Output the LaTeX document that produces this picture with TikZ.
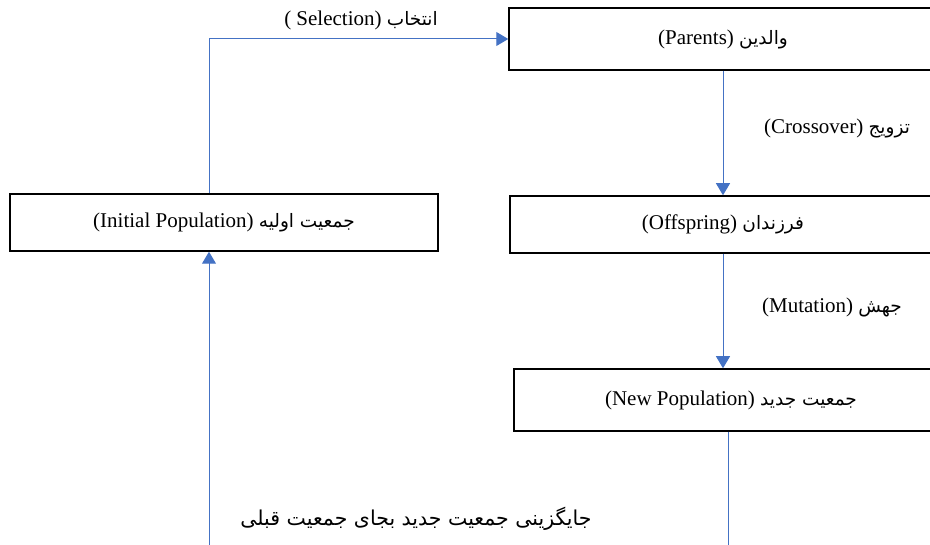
\documentclass[tikz,border=0pt]{standalone}
\usepackage{fontspec}
\setmainfont{Liberation Serif}
\newfontfamily\arabicfont[Script=Arabic]{DejaVu Sans}
\TeXXeTstate=1
\usetikzlibrary{arrows.meta}
\definecolor{flowblue}{HTML}{4472C4}
\newcommand{\fa}[1]{{\arabicfont\fontsize{18.5}{22}\selectfont\beginR #1\endR}}
\begin{document}
\begin{tikzpicture}[x=1pt,y=-1pt,
  stagebox/.style={draw=black,line width=1.5pt,fill=white,inner sep=0pt,
    font=\fontsize{21}{25}\selectfont},
  flow/.style={draw=flowblue,line width=1pt,-{Triangle[length=12pt,width=14pt]}},
  plain/.style={draw=flowblue,line width=1pt},
  lbl/.style={inner sep=0pt,font=\fontsize{21}{25}\selectfont}]
\useasboundingbox (0,0) rectangle (930,545);
\clip (0,0) rectangle (930,545);
\node[stagebox,minimum width=428pt,minimum height=57pt] (init) at (224,222.5)
  {(Initial Population) \fa{جمعیت اولیه}};
\node[stagebox,minimum width=428pt,minimum height=62pt] (parents) at (723,39)
  {(Parents) \fa{والدین}};
\node[stagebox,minimum width=426pt,minimum height=57pt] (offspring) at (723,224.5)
  {(Offspring) \fa{فرزندان}};
\node[stagebox,minimum width=434pt,minimum height=62pt] (newpop) at (731,400)
  {(New Population) \fa{جمعیت جدید}};
\coordinate (npend) at (728,560);
\coordinate (loopstart) at (209,560);
\draw[flow] ([xshift=-15pt]init.north) |- (parents.west);
\draw[flow] (parents.south) -- (offspring.north);
\draw[flow] (offspring.south) -- (offspring.south |- newpop.north);
\draw[plain] (newpop.south -| npend) -- (npend);
\draw[flow] (loopstart) -- (loopstart |- init.south);
\node[lbl] (sellbl) at (361,20) {( Selection) \fa{انتخاب}};
\node[lbl] (xlbl) at (837,128) {(Crossover) \fa{تزویج}};
\node[lbl] (mlbl) at (832,307) {(Mutation) \fa{جهش}};
\node[lbl] (rlbl) at (416,519) {\arabicfont\fontsize{20.5}{24}\selectfont\beginR جایگزینی جمعیت جدید بجای جمعیت قبلی\endR};
\end{tikzpicture}
\end{document}
